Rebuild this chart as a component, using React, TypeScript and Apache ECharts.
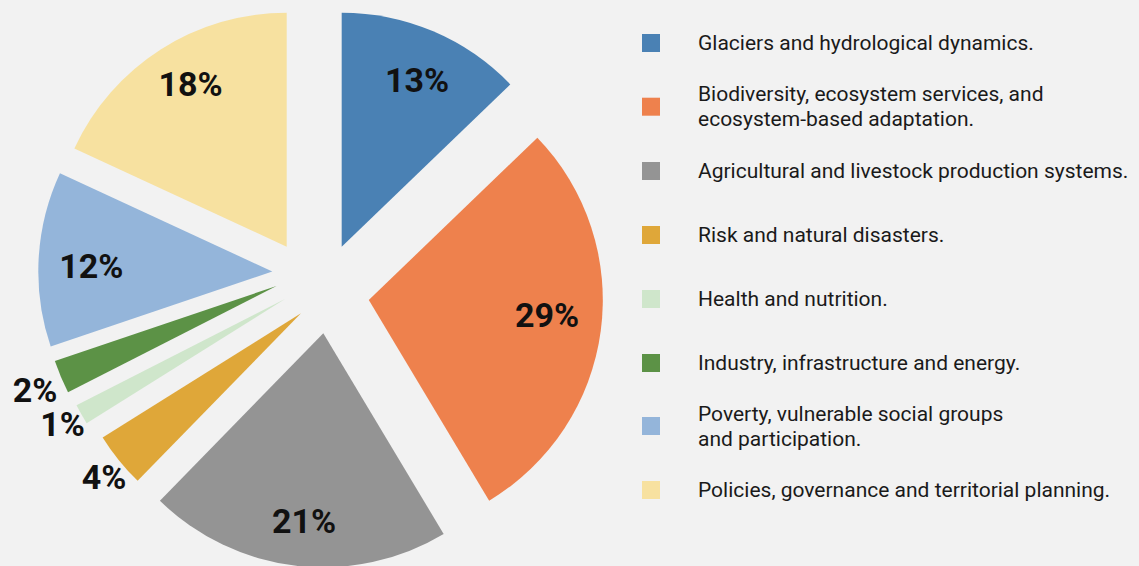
import React, { useEffect, useRef } from "react";
import * as echarts from "echarts";

// ---- data ----
const categories = [
  "Glaciers and hydrological dynamics.",
  "Biodiversity, ecosystem services, and ecosystem-based adaptation.",
  "Agricultural and livestock production systems.",
  "Risk and natural disasters.",
  "Health and nutrition.",
  "Industry, infrastructure and energy.",
  "Poverty, vulnerable social groups and participation.",
  "Policies, governance and territorial planning.",
];
const legendLines = [
  "Glaciers and hydrological dynamics.",
  "Biodiversity, ecosystem services, and\necosystem-based adaptation.",
  "Agricultural and livestock production systems.",
  "Risk and natural disasters.",
  "Health and nutrition.",
  "Industry, infrastructure and energy.",
  "Poverty, vulnerable social groups\nand participation.",
  "Policies, governance and territorial planning.",
];
const shares = [12.8, 28.6, 20.9, 3.8, 1.4, 2.3, 12.1, 18.1];

// ---- style / layout ----
const colors = [
  "#4a81b4",
  "#ee814d",
  "#949494",
  "#dfa739",
  "#cfe6cb",
  "#5c9246",
  "#94b5da",
  "#f7e1a0",
];
// explosion: each slice's own apex
const sliceCenters = [
  [341.7, 246.7],
  [368.8, 300],
  [323.3, 333.3],
  [301, 313.3],
  [285, 299],
  [276.5, 286],
  [272.3, 271.5],
  [286.7, 246.7],
];
// label placement: [distance from apex, angle shift from mid-angle in degrees]
const labelPlacement = [
  [183, 1.3],
  [179, -2.7],
  [189, -0.8],
  [256, -0.8],
  [255, 0.2],
  [263, -0.5],
  [181, -1.4],
  [189, 2.0],
];
const legendIconCenters = [43, 106.7, 171, 235, 299, 363, 426, 490];
const RADIUS = 234;

export default function App() {
  const ref = useRef<HTMLDivElement>(null);

  useEffect(() => {
    if (!ref.current) return;
    document.body.style.margin = "0";
    const chart = echarts.init(ref.current, undefined, { renderer: "svg" });
    const total = shares.reduce((a, b) => a + b, 0);
    const cumStart: number[] = [];
    let acc = 0;
    shares.forEach((v) => {
      cumStart.push(acc);
      acc += v;
    });

    const series = shares.map((v, i) => {
      const midDeg = ((cumStart[i] + v / 2) / total) * 360;
      const [lr, shift] = labelPlacement[i];
      const theta = ((midDeg + shift) * Math.PI) / 180;
      const [cx, cy] = sliceCenters[i];
      return {
        type: "pie",
        name: "slice" + i,
        center: [cx, cy],
        radius: [0, RADIUS],
        startAngle: 90 - (cumStart[i] / total) * 360,
        clockwise: true,
        selectedMode: false,
        silent: true,
        avoidLabelOverlap: false,
        labelLine: { show: false },
        emphasis: { disabled: true },
        label: {
          show: true,
          position: "inside",
          formatter: (p: any) =>
            p.dataIndex === 0 ? Math.round(p.percent) + "%" : "",
          fontFamily: "Roboto",
          fontWeight: "bold",
          fontSize: 34,
          color: "#111111",
        },
        labelLayout: () => ({
          x: cx + lr * Math.sin(theta),
          y: cy - lr * Math.cos(theta),
          align: "center",
          verticalAlign: "middle",
        }),
        data: [
          { name: categories[i], value: v, itemStyle: { color: colors[i] } },
          {
            name: "__rest" + i,
            value: total - v,
            itemStyle: { color: "rgba(0,0,0,0)" },
            label: { show: false },
          },
        ],
      };
    });

    const legend = categories.map((name, i) => {
      const twoLines = legendLines[i].includes("\n");
      return {
        data: [{ name, itemStyle: { color: colors[i] } }],
        orient: "vertical",
        left: 642,
        top: legendIconCenters[i] - (twoLines ? 25 : 12.5),
        padding: 0,
        itemWidth: 18,
        itemHeight: 18,
        icon: "rect",
        selectedMode: false,
        formatter: () => legendLines[i],
        textStyle: {
          fontFamily: "Roboto",
          fontSize: 21,
          lineHeight: 25,
          color: "#1a1a1a",
          padding: [0, 0, 0, 33],
        },
      };
    });

    chart.setOption({
      animation: false,
      backgroundColor: "#f2f2f2",
      legend,
      series,
    } as any);
    return () => chart.dispose();
  }, []);

  return (
    <div
      ref={ref}
      style={{
        position: "absolute",
        left: 0,
        top: 0,
        width: 1139,
        height: 566,
        background: "#f2f2f2",
      }}
    />
  );
}
